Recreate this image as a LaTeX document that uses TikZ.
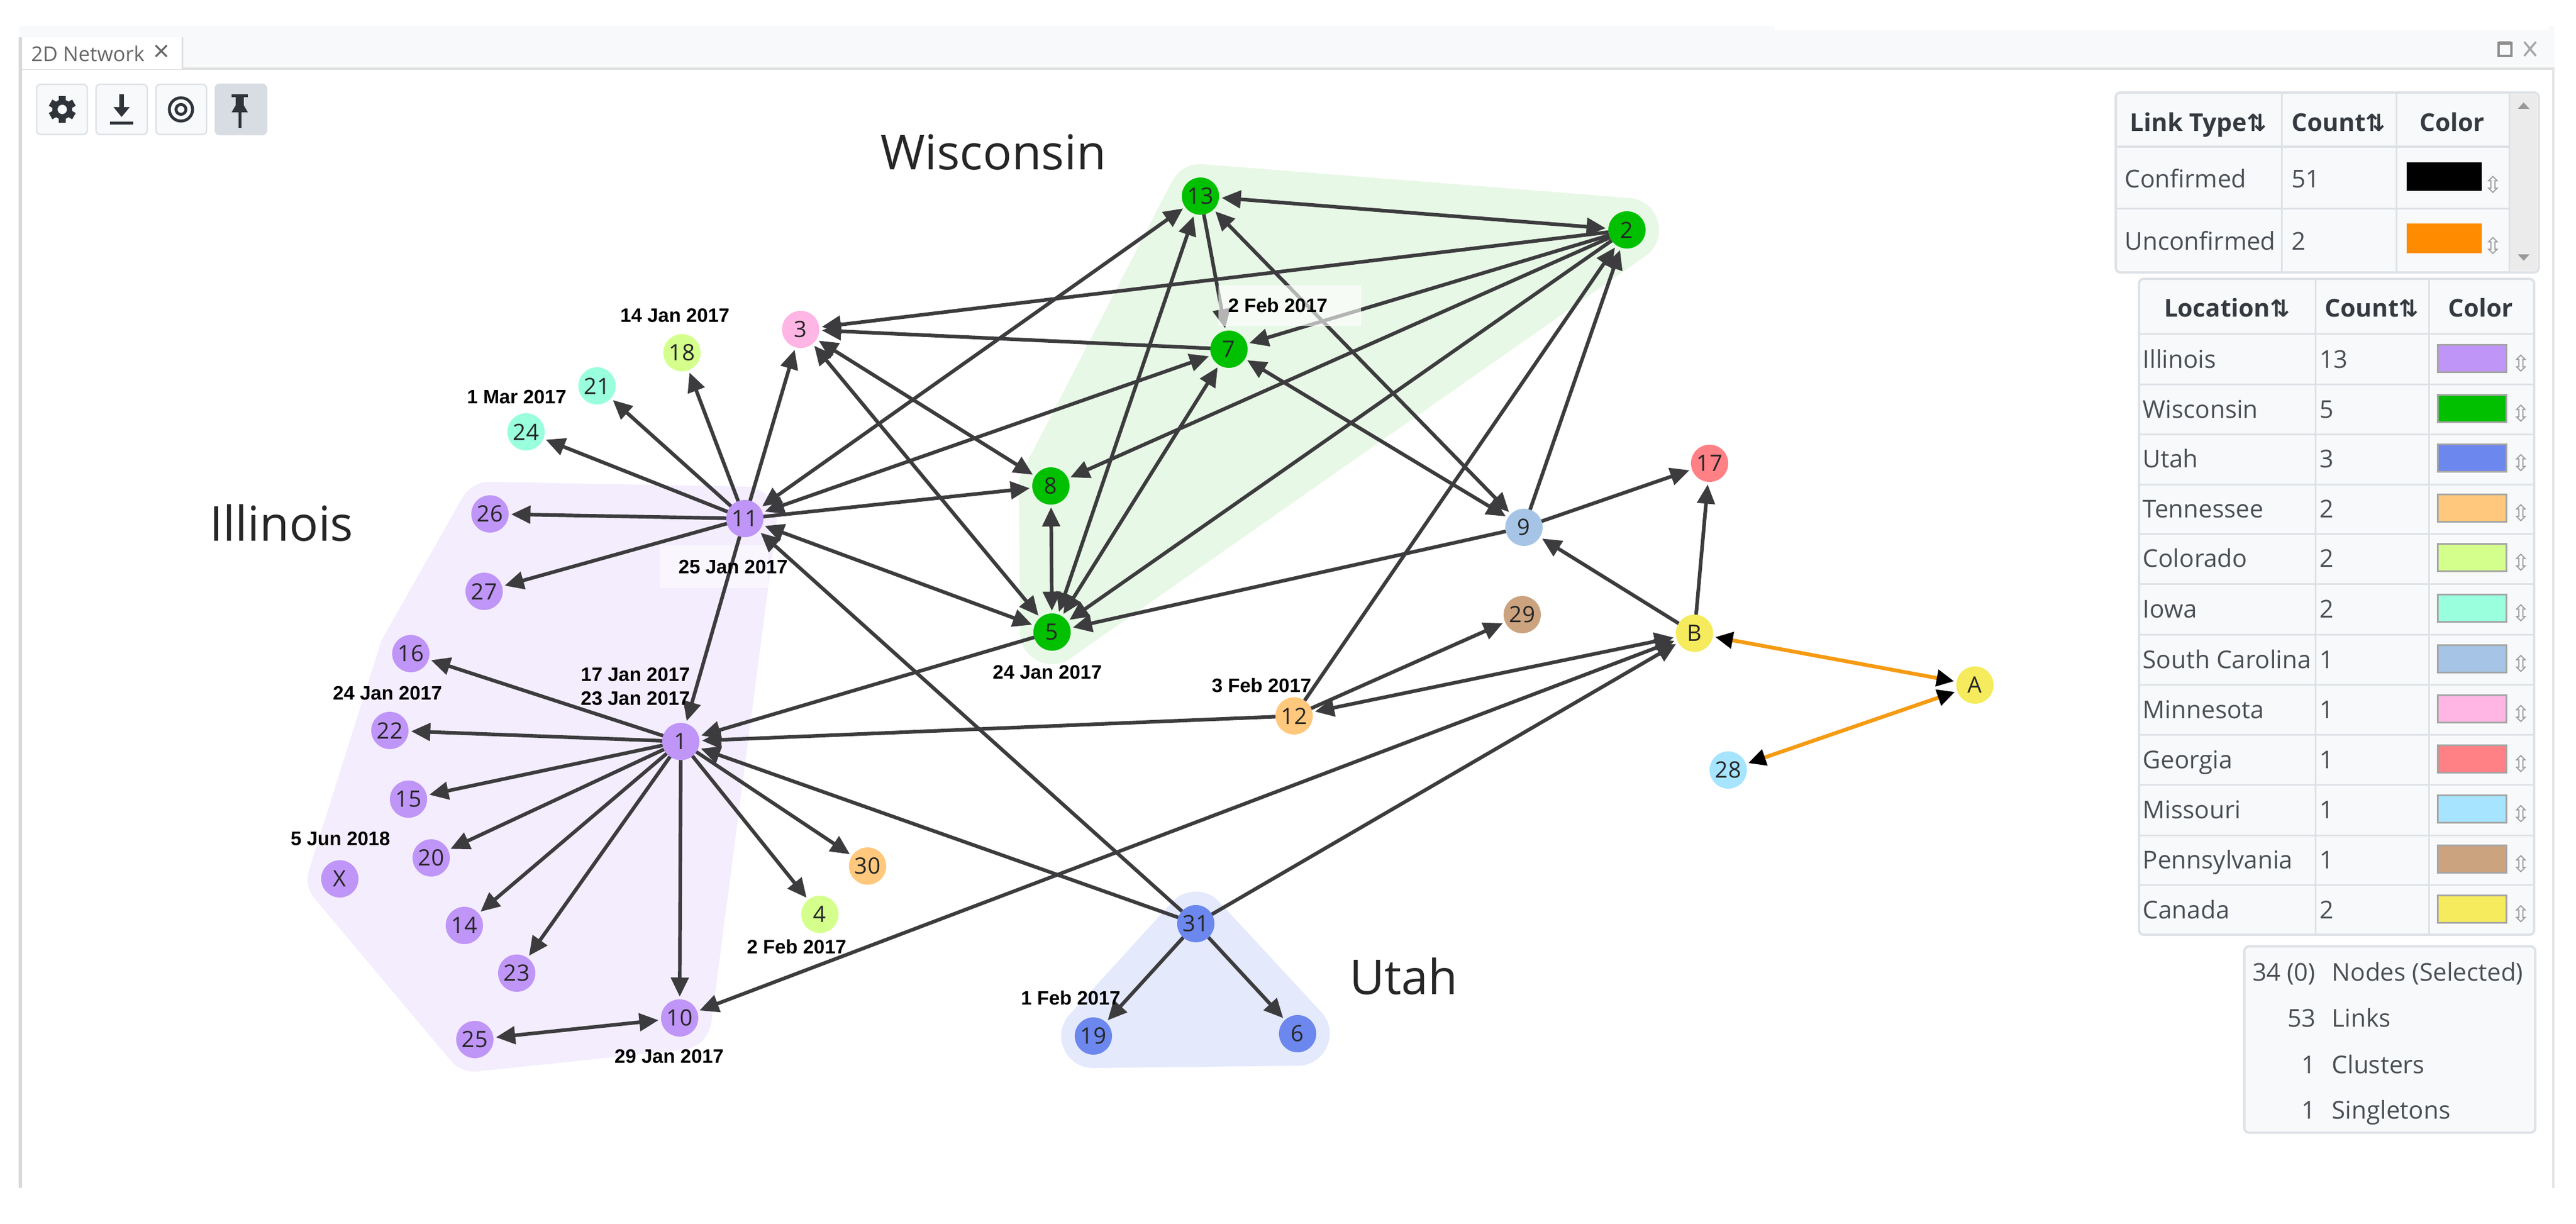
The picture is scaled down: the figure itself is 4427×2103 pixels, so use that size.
\documentclass[tikz,border=0pt]{standalone}
\usepackage{fontspec}
\setmainfont{Open Sans}
\newfontfamily\datefont{Liberation Sans}
\newfontfamily\symfont{DejaVu Sans}
\usetikzlibrary{arrows.meta,calc}
\definecolor{cIL}{HTML}{BF95F7}
\definecolor{cWI}{HTML}{00C000}
\definecolor{cUT}{HTML}{6C87EE}
\definecolor{cTN}{HTML}{FFC87C}
\definecolor{cCO}{HTML}{D4FF8C}
\definecolor{cIA}{HTML}{99FFDD}
\definecolor{cSC}{HTML}{A6C4E5}
\definecolor{cMN}{HTML}{FFB6E4}
\definecolor{cGA}{HTML}{FF8085}
\definecolor{cMO}{HTML}{A6E4FF}
\definecolor{cPA}{HTML}{CCA37F}
\definecolor{cCA}{HTML}{F5EB5C}
\definecolor{hullIL}{HTML}{F4EDFE}
\definecolor{hullWI}{HTML}{E8F8E6}
\definecolor{hullUT}{HTML}{E4E9FC}
\definecolor{edgecol}{HTML}{3C3C3E}
\definecolor{orangeedge}{HTML}{F59B12}
\definecolor{panelbg}{HTML}{F8F9FA}
\definecolor{panelline}{HTML}{DEE2E6}
\definecolor{pinbg}{HTML}{D8DCE3}
\definecolor{textcol}{HTML}{4A4F55}
\definecolor{headcol}{HTML}{343A40}
\definecolor{iconcol}{HTML}{2F343A}
\tikzset{
  x=0.01cm,y=-0.01cm,
  net/.style={circle,minimum size=0.64cm,inner sep=0pt,outer sep=0.045cm,text=black!85,font=\fontsize{11}{13}\selectfont},
  il/.style={net,fill=cIL}, wi/.style={net,fill=cWI}, ut/.style={net,fill=cUT},
  tn/.style={net,fill=cTN}, co/.style={net,fill=cCO}, ia/.style={net,fill=cIA},
  sc/.style={net,fill=cSC}, mn/.style={net,fill=cMN}, ga/.style={net,fill=cGA},
  mo/.style={net,fill=cMO}, pa/.style={net,fill=cPA}, ca/.style={net,fill=cCA},
  edgebase/.style={edgecol,line width=0.062cm},
  one/.style={edgebase,-{Triangle[length=0.33cm,width=0.3cm]},shorten <=-0.045cm},
  two/.style={edgebase,{Triangle[length=0.33cm,width=0.3cm]}-{Triangle[length=0.33cm,width=0.3cm]}},
  unconf/.style={orangeedge,line width=0.065cm,{Triangle[length=0.3cm,width=0.28cm,black]}-{Triangle[length=0.3cm,width=0.28cm,black]}},
  datelabel/.style={font=\datefont\bfseries\fontsize{9.5}{11}\selectfont,text=black,inner sep=0pt},
  region/.style={font=\fontsize{23.5}{28}\selectfont,text=black!85,inner sep=0pt},
  hullshape/.style={line width=1.1cm,line join=round},
  panel/.style={fill=panelbg,draw=panelline,line width=0.04cm,rounded corners=0.08cm},
  rule/.style={draw=panelline,line width=0.03cm},
  cell/.style={font=\fontsize{12}{14}\selectfont,text=textcol,inner sep=0pt,anchor=west,text height=0.38cm,text depth=0.08cm},
  numr/.style={font=\fontsize{12}{14}\selectfont,text=textcol,inner sep=0pt,anchor=east,text height=0.38cm,text depth=0.08cm},
  head/.style={font=\bfseries\fontsize{12}{14}\selectfont,text=headcol,inner sep=0pt,text height=0.38cm,text depth=0.08cm},
  swatch/.style={draw=black!35,line width=0.03cm},
  toolbtn/.style={fill=panelbg,draw=panelline,line width=0.025cm,rounded corners=0.07cm},
  grip/.style={font=\symfont\fontsize{11}{12}\selectfont,text=black!40,inner sep=0pt},
}
\newcommand{\sortmark}{{\symfont\fontsize{11.5}{10}\selectfont ⇅}}
\begin{document}
\begin{tikzpicture}
\useasboundingbox (0,0) rectangle (4427,2103);
\fill[white] (0,0) rectangle (4427,2103);
% window
\fill[panelbg] (33,45) rectangle (4390,118);
\fill[white] (3050,45) rectangle (4380,52);
\draw[draw=black!12,line width=0.04cm] (33,118) -- (4390,118);
\fill[white] (33,64) rectangle (313,119);
\draw[draw=black!12,line width=0.03cm] (313,64) -- (313,118);
\draw[draw=black!15,line width=0.05cm] (35,64) -- (35,2041);
\draw[draw=black!10,line width=0.04cm] (4388,118) -- (4388,2041);
\node[inner sep=0pt,text=black!60,font=\fontsize{10}{14}\selectfont] (tabtitle) at (151,92) {2D Network};
\node[inner sep=0pt,text=black!60,font=\fontsize{14}{14}\selectfont] (tabclose) at (278,91) {×};
\draw[black!45,line width=0.04cm] (4294,74) rectangle (4316,96);
\draw[black!45,line width=0.06cm] (4294,74) -- (4316,74);
\draw[black!35,line width=0.035cm] (4338,72) -- (4358,96) (4358,72) -- (4338,96);
% toolbar
\draw[toolbtn] (63,145) rectangle (150,231);
\draw[toolbtn] (165,145) rectangle (253,231);
\draw[toolbtn] (268,145) rectangle (355,231);
\draw[toolbtn,fill=pinbg,draw=pinbg] (370,145) rectangle (458,231);
% gear
\begin{scope}[shift={(107,188)}]
  \foreach \a in {0,60,...,300}{\fill[iconcol,rotate=\a] (-6,-23) rectangle (6,23);}
  \fill[iconcol] (0,0) circle (0.17cm);
  \fill[panelbg] (0,0) circle (0.08cm);
\end{scope}
% download
\begin{scope}[shift={(209,188)}]
  \fill[iconcol] (-4,-26) rectangle (4,0);
  \fill[iconcol] (-14,-4) -- (14,-4) -- (0,13) -- cycle;
  \fill[iconcol] (-20,21) rectangle (20,26);
\end{scope}
% target
\begin{scope}[shift={(311,188)}]
  \draw[iconcol,line width=0.05cm] (0,0) circle (0.2cm);
  \draw[iconcol,line width=0.05cm] (0,0) circle (0.085cm);
\end{scope}
% pin
\begin{scope}[shift={(412,188)}]
  \fill[iconcol] (-14,-26) rectangle (14,-21);
  \fill[iconcol] (-7,-22) rectangle (7,-6);
  \fill[iconcol] (-14,5) -- (-7,-7) -- (7,-7) -- (14,5) -- cycle;
  \fill[iconcol] (-2.5,4) rectangle (2.5,32);
\end{scope}

% nodes coordinates for hulls
\coordinate (h26) at (842,883); \coordinate (h11) at (1280,891); \coordinate (h10) at (1168,1749);
\coordinate (h25) at (816,1786); \coordinate (hX) at (584,1510); \coordinate (h16) at (706,1123);
\coordinate (h13) at (2063,337); \coordinate (h2) at (2796,395); \coordinate (h5) at (1808,1086); \coordinate (h8) at (1806,835);
\coordinate (h31) at (2055,1587); \coordinate (h19) at (1879,1780); \coordinate (h6) at (2230,1776);
\filldraw[hullIL,hullshape] (h26) -- (h11) -- (h10) -- (h25) -- (hX) -- (h16) -- cycle;
\filldraw[hullWI,hullshape] (h13) -- (h2) -- (h5) -- (h8) -- cycle;
\filldraw[hullUT,hullshape] (h31) -- (h19) -- (h6) -- cycle;
\fill[white,opacity=0.55] (1134,937) rectangle (1320,1010);

% network nodes
\node[il] (n1) at (1170,1274) {1};
\node[wi] (n2) at (h2) {2};
\node[mn] (n3) at (1376,566) {3};
\node[co] (n4) at (1409,1571) {4};
\node[wi] (n5) at (h5) {5};
\node[ut] (n6) at (h6) {6};
\node[wi] (n7) at (2112,600) {7};
\node[wi] (n8) at (h8) {8};
\node[sc] (n9) at (2619,906) {9};
\node[il] (n10) at (h10) {10};
\node[il] (n11) at (h11) {11};
\node[tn] (n12) at (2224,1230) {12};
\node[wi] (n13) at (h13) {13};
\node[il] (n14) at (798,1590) {14};
\node[il] (n15) at (702,1373) {15};
\node[il] (n16) at (h16) {16};
\node[ga] (n17) at (2938,796) {17};
\node[co] (n18) at (1172,606) {18};
\node[ut] (n19) at (h19) {19};
\node[il] (n20) at (741,1474) {20};
\node[ia] (n21) at (1026,663) {21};
\node[il] (n22) at (670,1255) {22};
\node[il] (n23) at (888,1672) {23};
\node[ia] (n24) at (904,742) {24};
\node[il] (n25) at (h25) {25};
\node[il] (n26) at (h26) {26};
\node[il] (n27) at (832,1016) {27};
\node[mo] (n28) at (2970,1323) {28};
\node[pa] (n29) at (2616,1056) {29};
\node[tn] (n30) at (1491,1488) {30};
\node[ut] (n31) at (h31) {31};
\node[il] (nX) at (hX) {X};
\node[ca] (nA) at (3394,1177) {A};
\node[ca] (nB) at (2912,1088) {B};

% edges
\foreach \a/\b in {11/24,11/21,11/18,11/3,11/26,11/27,11/1,11/8,31/11,
  2/3,7/3,2/7,2/8,2/5,13/7,9/2,12/2,9/5,9/17,B/9,B/17,31/B,12/29,12/1,5/1,31/1,
  1/16,1/22,1/15,1/20,1/14,1/23,1/10,1/4,1/30,31/19,31/6}
  {\draw[one] (n\a) -- (n\b);}
\foreach \a/\b in {7/11,13/11,5/11,3/8,3/5,2/13,5/13,5/7,5/8,13/9,7/9,B/12,10/B,25/10}
  {\draw[two] (n\a) -- (n\b);}
\draw[unconf] (nA) -- (nB);
\draw[unconf] (nA) -- (n28);
\fill[white,opacity=0.62] (2094,490) rectangle (2339,560);

% date labels
\node[datelabel] (d18) at (1160,542) {14 Jan 2017};
\node[datelabel] (d24) at (888,682) {1 Mar 2017};
\node[datelabel] (d11) at (1260,974) {25 Jan 2017};
\node[datelabel] (d7) at (2196,525) {2 Feb 2017};
\node[datelabel] (d5) at (1800,1155) {24 Jan 2017};
\node[datelabel] (d12) at (2168,1178) {3 Feb 2017};
\node[datelabel] (d1a) at (1092,1159) {17 Jan 2017};
\node[datelabel] (d1b) at (1092,1200) {23 Jan 2017};
\node[datelabel] (d22) at (666,1191) {24 Jan 2017};
\node[datelabel] (dX) at (585,1441) {5 Jun 2018};
\node[datelabel] (d4) at (1369,1627) {2 Feb 2017};
\node[datelabel] (d10) at (1150,1815) {29 Jan 2017};
\node[datelabel] (d19) at (1840,1715) {1 Feb 2017};

% region labels
\node[region] (rWI) at (1707,262) {Wisconsin};
\node[region] (rIL) at (484,899) {Illinois};
\node[region] (rUT) at (2412,1677) {Utah};

% link type table
\draw[panel] (3636,159) rectangle (4363,468);
\fill[black!8] (4312,162) rectangle (4360,465);
\fill[black!40] (4337,176) -- (4327,187) -- (4347,187) -- cycle;
\fill[black!40] (4337,448) -- (4327,437) -- (4347,437) -- cycle;
\draw[rule] (3636,252) -- (4312,252) (3636,358) -- (4312,358);
\draw[rule] (3921,159) -- (3921,468) (4118,159) -- (4118,468) (4312,159) -- (4312,468);
\node[head] (lt1) at (3778,210) {Link Type\sortmark};
\node[head] (lt2) at (4019,210) {Count\sortmark};
\node[head] (lt3) at (4214,210) {Color};
\node[cell] (lt4) at (3651,307) {Confirmed};
\node[cell] (lt5) at (3938,307) {51};
\node[cell] (lt6) at (3651,414) {Unconfirmed};
\node[cell] (lt7) at (3938,414) {2};
\fill[black] (4136,279) rectangle (4265,328);
\fill[orange!90!yellow] (4136,384) rectangle (4265,435);
\node[grip] (ltg1) at (4285,317) {⇳};
\node[grip] (ltg2) at (4285,422) {⇳};

% location table
\draw[panel] (3676,479) rectangle (4355,1606);
\draw[rule] (3676,573) -- (4355,573);
\foreach \yy in {660,746,832,917,1003,1090,1176,1262,1348,1435,1520}
  {\draw[rule] (3676,\yy) -- (4355,\yy);}
\draw[rule] (3979,479) -- (3979,1606) (4174,479) -- (4174,1606);
\node[head] (loc1) at (3827,529) {Location\sortmark};
\node[head] (loc2) at (4076,529) {Count\sortmark};
\node[head] (loc3) at (4263,529) {Color};
\foreach \nm/\ct/\col/\yy in {Illinois/13/cIL/617,Wisconsin/5/cWI/703,Utah/3/cUT/788,Tennessee/2/cTN/874,
  Colorado/2/cCO/959,Iowa/2/cIA/1046,South Carolina/1/cSC/1133,Minnesota/1/cMN/1219,Georgia/1/cGA/1305,
  Missouri/1/cMO/1391,Pennsylvania/1/cPA/1477,Canada/2/cCA/1563}{
  \node[cell] at (3682,\yy) {\nm};
  \node[cell] at (3986,\yy) {\ct};
  \draw[swatch,fill=\col] (4189,\yy-25) rectangle (4307,\yy+22);
  \node[grip] at (4333,\yy+7) {⇳};
}

% statistics box
\draw[panel] (3857,1626) rectangle (4357,1946);
\node[numr] at (3980,1670) {34 (0)};
\node[cell] at (4007,1670) {Nodes (Selected)};
\node[numr] at (3980,1749) {53};
\node[cell] at (4007,1749) {Links};
\node[numr] at (3980,1829) {1};
\node[cell] at (4007,1829) {Clusters};
\node[numr] at (3980,1907) {1};
\node[cell] at (4007,1907) {Singletons};
\end{tikzpicture}
\end{document}
